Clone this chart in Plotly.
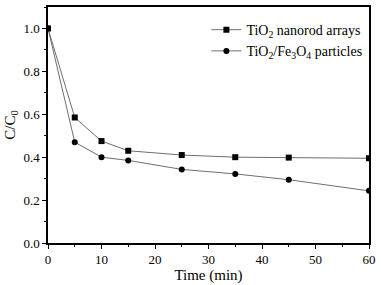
import plotly.graph_objects as go

time_min = [0, 5, 10, 15, 25, 35, 45, 60]
tio2_nanorod = [1.0, 0.585, 0.475, 0.430, 0.410, 0.400, 0.398, 0.395]
tio2_fe3o4 = [1.0, 0.470, 0.400, 0.385, 0.343, 0.322, 0.295, 0.243]

names = ["TiO<sub>2</sub> nanorod arrays", "TiO<sub>2</sub>/Fe<sub>3</sub>O<sub>4</sub> particles"]

fig = go.Figure()
fig.add_trace(go.Scatter(x=time_min, y=tio2_nanorod, mode="lines+markers", name=names[0],
                         line=dict(color="#6e6e6e", width=1),
                         marker=dict(symbol="square", size=6, color="black")))
fig.add_trace(go.Scatter(x=time_min, y=tio2_fe3o4, mode="lines+markers", name=names[1],
                         line=dict(color="#6e6e6e", width=1),
                         marker=dict(symbol="circle", size=6, color="black")))

font = dict(family="Liberation Serif, Times New Roman, serif", color="black")
fig.update_layout(
    width=381, height=285,
    margin=dict(l=48, r=8, t=5, b=37),
    paper_bgcolor="white", plot_bgcolor="white",
    font=dict(size=13, **font),
    showlegend=True,
    legend=dict(x=0.995, y=0.97, xanchor="right", yanchor="top", bgcolor="rgba(0,0,0,0)",
                font=dict(size=14, **font), itemwidth=30, tracegroupgap=0),
    xaxis=dict(range=[0, 60], tickvals=[0, 10, 20, 30, 40, 50, 60], ticks="outside", ticklen=4,
               tickwidth=1, tickcolor="black", showline=True, linecolor="black", linewidth=1.5,
               mirror=True, showgrid=False, zeroline=False,
               minor=dict(dtick=5, ticks="outside", ticklen=2, tickcolor="black"),
               title=dict(text="Time (min)", standoff=2, font=dict(size=15, **font)),
               tickfont=dict(size=13, **font)),
    yaxis=dict(range=[0, 1.1], tickvals=[0, 0.2, 0.4, 0.6, 0.8, 1.0], tickformat=".1f",
               ticks="outside", ticklen=4, tickwidth=1, tickcolor="black", showline=True,
               linecolor="black", linewidth=1.5, mirror=True, showgrid=False, zeroline=False,
               minor=dict(dtick=0.1, ticks="outside", ticklen=2, tickcolor="black"),
               title=dict(text="C/C<sub>0</sub>", standoff=4, font=dict(size=15, **font)),
               tickfont=dict(size=13, **font)),
)
fig.write_html("out.html", config={"displayModeBar": False},
               post_script="document.body.style.margin='0';document.body.style.overflow='hidden';")
